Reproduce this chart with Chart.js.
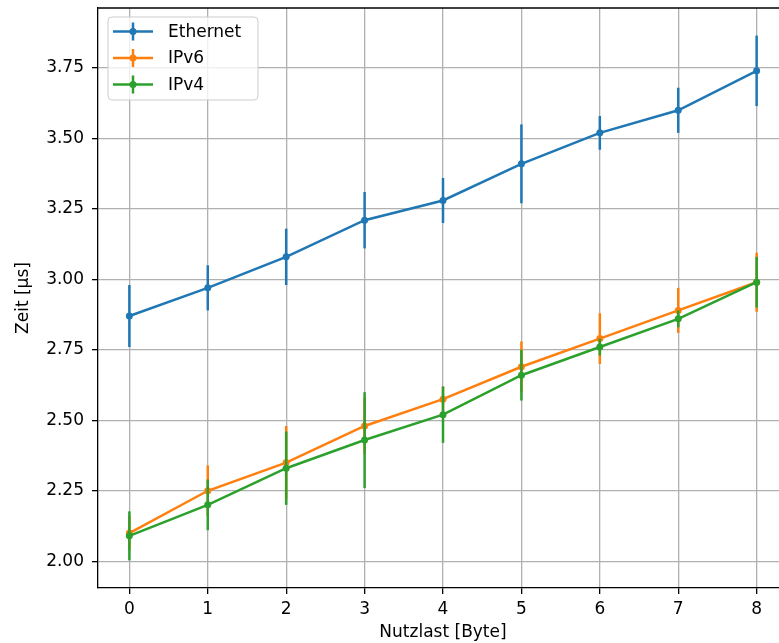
<!DOCTYPE html>
<html>
<head>
<meta charset="utf-8">
<script src="https://cdn.jsdelivr.net/npm/chart.js@4.4.1/dist/chart.umd.min.js"></script>
<style>
  html, body { margin: 0; padding: 0; background: #fff; overflow: hidden; }
  #wrap { width: 800px; height: 643px; }
</style>
</head>
<body>
<div id="wrap"><canvas id="chart" width="800" height="643"></canvas></div>
<script>
const payload = [0, 1, 2, 3, 4, 5, 6, 7, 8];
const seriesNames = ['Ethernet', 'IPv6', 'IPv4'];
const ethernet = [2.87, 2.97, 3.08, 3.21, 3.28, 3.41, 3.52, 3.60, 3.74];
const ethernetErr = [0.11, 0.08, 0.10, 0.10, 0.08, 0.14, 0.06, 0.08, 0.125];
const ipv6 = [2.10, 2.25, 2.35, 2.48, 2.575, 2.69, 2.79, 2.89, 2.99];
const ipv6Err = [0.06, 0.09, 0.13, 0.10, 0.045, 0.09, 0.09, 0.08, 0.105];
const ipv4 = [2.09, 2.20, 2.33, 2.43, 2.52, 2.66, 2.76, 2.86, 2.99];
const ipv4Err = [0.087, 0.09, 0.13, 0.17, 0.10, 0.09, 0.03, 0.03, 0.09];
const xTicks = [0, 1, 2, 3, 4, 5, 6, 7, 8];
const yTicks = [2.00, 2.25, 2.50, 2.75, 3.00, 3.25, 3.50, 3.75];

const colors = ['#1f77b4', '#ff7f0e', '#2ca02c'];
const values = [ethernet, ipv6, ipv4];
const errors = [ethernetErr, ipv6Err, ipv4Err];
const FONT = "'DejaVu Sans', sans-serif";

const datasets = seriesNames.map((name, i) => ({
  label: name,
  data: payload.map((x, j) => ({ x: x, y: values[i][j] })),
  err: errors[i],
  borderColor: colors[i],
  backgroundColor: colors[i],
  borderWidth: 2.5,
  pointRadius: 3.5,
  pointBorderWidth: 0,
  pointBackgroundColor: colors[i],
  tension: 0,
  order: 3 - i
}));

// error bars drawn just before each dataset's line
const errorBars = {
  id: 'errorBars',
  beforeDatasetDraw(chart, args) {
    const ds = chart.data.datasets[args.index];
    const xs = chart.scales.x, ys = chart.scales.y;
    const ctx = chart.ctx;
    ctx.save();
    ctx.strokeStyle = ds.borderColor;
    ctx.lineWidth = 2.5;
    ds.data.forEach((p, j) => {
      const px = xs.getPixelForValue(p.x);
      ctx.beginPath();
      ctx.moveTo(px, ys.getPixelForValue(p.y - ds.err[j]));
      ctx.lineTo(px, ys.getPixelForValue(p.y + ds.err[j]));
      ctx.stroke();
    });
    ctx.restore();
  }
};

// top spine + matplotlib style legend box
const frameAndLegend = {
  id: 'frameAndLegend',
  afterDraw(chart) {
    const ctx = chart.ctx;
    const a = chart.chartArea;
    ctx.save();
    ctx.strokeStyle = '#000';
    ctx.lineWidth = 1.3;
    ctx.beginPath();
    ctx.moveTo(a.left, a.top);
    ctx.lineTo(a.right, a.top);
    ctx.stroke();

    const bx = 108, by = 17, bw = 150, bh = 83, r = 4;
    ctx.beginPath();
    ctx.roundRect(bx, by, bw, bh, r);
    ctx.fillStyle = 'rgba(255,255,255,0.8)';
    ctx.fill();
    ctx.strokeStyle = '#cccccc';
    ctx.lineWidth = 1;
    ctx.stroke();

    const rows = [31.5, 58, 84.5];
    ctx.font = '17px ' + FONT;
    ctx.textBaseline = 'middle';
    chart.data.datasets.forEach((ds, i) => {
      const y = rows[i];
      ctx.strokeStyle = ds.borderColor;
      ctx.lineWidth = 2.5;
      ctx.beginPath();
      ctx.moveTo(113, y);
      ctx.lineTo(153, y);
      ctx.moveTo(133, y - 9);
      ctx.lineTo(133, y + 9);
      ctx.stroke();
      ctx.fillStyle = ds.borderColor;
      ctx.beginPath();
      ctx.arc(133, y, 3.5, 0, Math.PI * 2);
      ctx.fill();
      ctx.fillStyle = '#000';
      ctx.fillText(ds.label, 168, y + 1);
    });
    ctx.restore();
  }
};

new Chart(document.getElementById('chart'), {
  type: 'line',
  data: { datasets: datasets },
  options: {
    responsive: false,
    animation: false,
    layout: { padding: { left: 0, top: 8, right: 12, bottom: 0 } },
    plugins: { legend: { display: false }, tooltip: { enabled: false } },
    scales: {
      x: {
        type: 'linear',
        min: -0.4,
        max: 8.4,
        afterBuildTicks: s => { s.ticks = xTicks.map(v => ({ value: v })); },
        afterFit: s => { s.height = 55; s.paddingLeft = 0; s.paddingRight = 0; },
        ticks: { color: '#000', font: { family: FONT, size: 17 }, padding: 5, maxRotation: 0 },
        grid: { color: '#b0b0b0', lineWidth: 1.3, tickColor: '#000', tickLength: 6, tickWidth: 1.3 },
        border: { color: '#000', width: 1.3 },
        title: { display: true, text: 'Nutzlast [Byte]', color: '#000', font: { family: FONT, size: 17 }, padding: { top: 0, bottom: 0 } }
      },
      y: {
        min: 1.905,
        max: 3.963,
        afterBuildTicks: s => { s.ticks = yTicks.map(v => ({ value: v })); },
        afterFit: s => { s.width = 98; s.paddingTop = 0; s.paddingBottom = 0; },
        ticks: { color: '#000', font: { family: FONT, size: 17 }, padding: 8, callback: v => v.toFixed(2) },
        grid: { color: '#b0b0b0', lineWidth: 1.3, tickColor: '#000', tickLength: 6, tickWidth: 1.3 },
        border: { color: '#000', width: 1.3 },
        title: { display: true, text: 'Zeit [µs]', color: '#000', font: { family: FONT, size: 17 }, padding: { top: 13, bottom: 0 } }
      }
    }
  },
  plugins: [errorBars, frameAndLegend]
});
</script>
</body>
</html>
